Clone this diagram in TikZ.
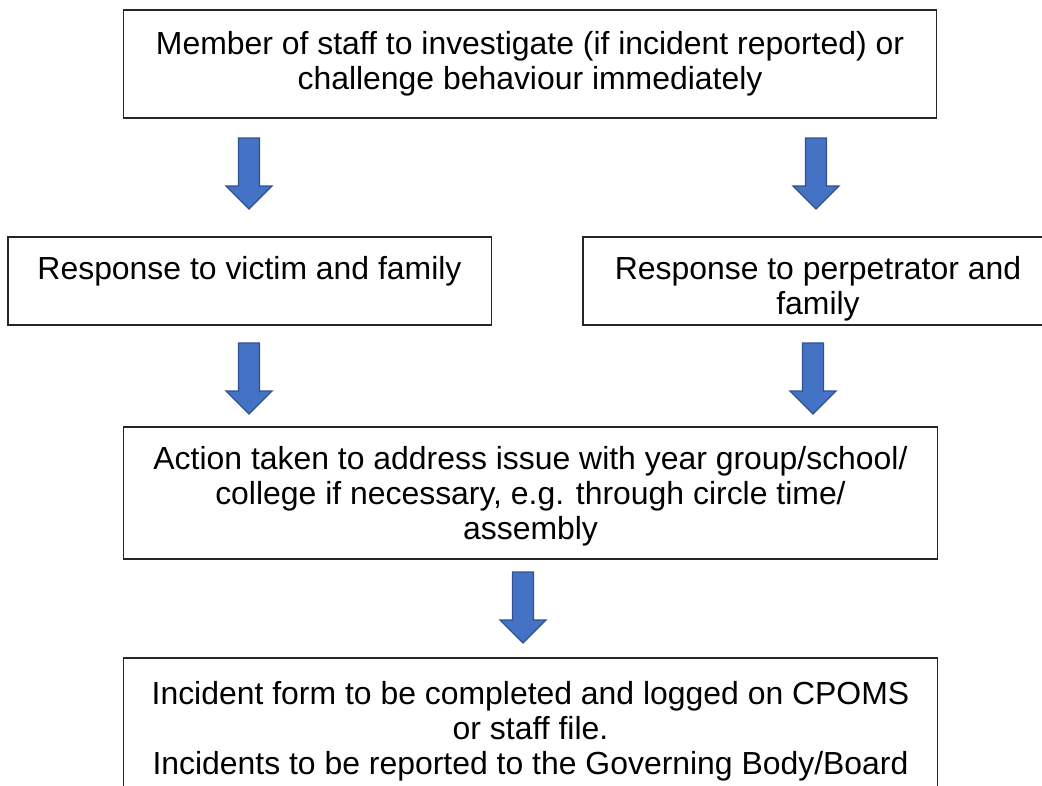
\documentclass[tikz,border=0pt]{standalone}
\usepackage{fontspec}
\setmainfont{Liberation Sans}
\definecolor{arrowfill}{HTML}{4472C4}
\definecolor{arrowline}{HTML}{2F528F}
\tikzset{
  box/.style={draw=black!85,line width=0.8pt,align=center,inner sep=0pt,
    font=\fontsize{22.7}{24.9}\selectfont},
  blockarrow/.pic={
    \draw[fill=arrowfill,draw=arrowline,line width=0.9pt,line join=miter]
      (-10.5,0) -- (10.5,0) -- (10.5,48) -- (23,48) -- (0,71)
      -- (-23,48) -- (-10.5,48) -- cycle;}
}

\begin{document}
\begin{tikzpicture}[x=0.025cm,y=-0.025cm]
            \useasboundingbox (0,0) rectangle (1042,785);
            \node[box,minimum width=20.3cm,minimum height=2.7cm] (staff) at (530,64)
              {Member of staff to investigate (if incident reported) or\\challenge behaviour immediately};
            \node[box,minimum width=12.075cm,minimum height=2.2cm,text depth=19pt] (victim) at (249.5,281)
              {Response to victim and family};
            \node[box,minimum width=11.75cm,minimum height=2.2cm,text height=48pt,text depth=-6pt] (perp) at (818,281)
              {Response to perpetrator and\\family};
            \node[box,minimum width=20.325cm,minimum height=3.3cm,text depth=-5pt] (action) at (530.5,493)
              {Action taken to address issue with year group/school/\\college if necessary, e.g. through circle time/\\assembly};
            \node[box,minimum width=20.325cm,minimum height=3.5cm,text depth=-1pt] (incident) at (530.5,728)
              {Incident form to be completed and logged on CPOMS\\or staff file.\\Incidents to be reported to the Governing Body/Board};
            % arrows between the boxes
            \pic at (249,138) {blockarrow};
            \pic at (816,138) {blockarrow};
            \pic at (249,343) {blockarrow};
            \pic at (813,343) {blockarrow};
            \pic at (523,572) {blockarrow};
        \end{tikzpicture}
\end{document}
